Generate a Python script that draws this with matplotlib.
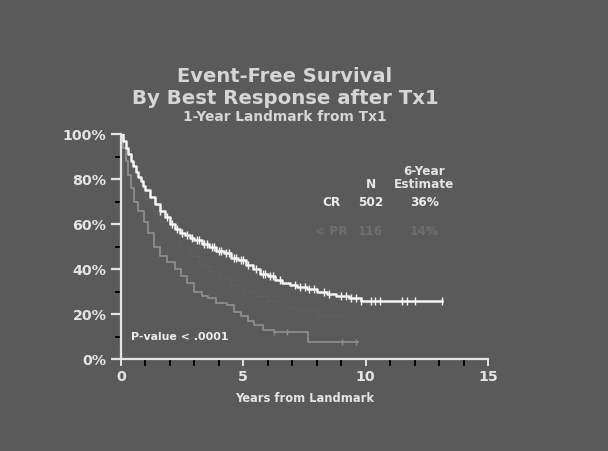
import matplotlib

matplotlib.use("Agg")
import matplotlib.pyplot as plt
import numpy as np

plt.rcParams["font.family"] = ["DejaVu Sans"]
plt.rcParams["font.weight"] = "bold"
plt.rcParams["axes.labelweight"] = "bold"

# Kaplan-Meier steps (years, percent)
cr_t = [0, 0.1, 0.2, 0.3, 0.4, 0.5, 0.6, 0.7, 0.8, 0.9, 1.0, 1.2, 1.4, 1.6, 1.8,
        2.0, 2.2, 2.4, 2.6, 2.8, 3.0, 3.3, 3.6, 3.9, 4.2, 4.5, 4.8, 5.1, 5.4, 5.7,
        6.0, 6.3, 6.6, 6.9, 7.2, 7.6, 8.0, 8.4, 8.8, 9.3, 9.8, 13.1]
cr_s = [100, 97, 94, 91, 88, 86, 83, 81, 79, 77, 75, 72, 69, 66, 63,
        60, 58, 56, 55, 54, 53, 51, 50, 48, 47, 45, 44, 42, 40, 38,
        37, 35, 34, 33, 32, 31, 30, 29, 28, 27, 26, 26]
cr_cens = [1.6, 1.9, 2.1, 2.3, 2.5, 2.7, 2.9, 3.1, 3.2, 3.4, 3.5, 3.7, 3.8, 4.0,
           4.1, 4.3, 4.4, 4.6, 4.7, 4.9, 5.0, 5.2, 5.5, 5.8, 5.9, 6.1, 6.2, 6.5,
           7.1, 7.3, 7.5, 7.7, 7.9, 8.3, 8.5, 9.0, 9.2, 9.4, 9.6, 9.8, 10.2,
           10.4, 10.6, 11.5, 11.7, 12.0, 13.1]

pr_t = [0, 0.2, 0.4, 0.6, 0.8, 1.0, 1.3, 1.6, 2.0, 2.4, 2.8, 3.2, 3.6, 4.0,
        4.5, 5.0, 5.5, 6.0, 6.6, 7.2, 8.0, 9.3]
pr_s = [100, 93, 87, 81, 76, 71, 66, 61, 55, 50, 46, 42, 39, 36,
        33, 30, 28, 26, 23, 22, 19, 19]

lpr_t = [0, 0.1, 0.2, 0.3, 0.4, 0.53, 0.7, 0.94, 1.1, 1.35, 1.6, 1.9, 2.2, 2.45,
         2.7, 3.0, 3.3, 3.55, 3.9, 4.35, 4.6, 4.9, 5.2, 5.45, 5.8, 6.25, 7.65, 9.7]
lpr_s = [100, 94, 88, 82, 76, 70, 66, 61, 56, 50, 46, 43, 40, 37,
         34, 30, 28, 27, 25, 24, 21, 19, 17, 15, 13, 12, 7.5, 7.5]
lpr_cens = [6.25, 6.8, 9.05, 9.6]

groups = ["CR", "< PR"]
n_pts = [502, 116]
est_6y = ["36%", "14%"]

BG = "#5a5a5a"
TXT = "#e4e4e4"


def step_at(t, s, x):
    idx = np.searchsorted(t, x, side="right") - 1
    return np.asarray(s)[idx]


fig = plt.figure(figsize=(6.08, 4.52), dpi=100, facecolor=BG)
ax = fig.add_axes([121 / 608, 1 - 360 / 452, (488 - 121) / 608, 225 / 452])
ax.set_facecolor(BG)

ax.step(pr_t, pr_s, where="post", color="#5f5f5f", lw=1.0)
ax.step(lpr_t, lpr_s, where="post", color="#8e8e8e", lw=1.3)
ax.plot(lpr_cens, step_at(lpr_t, lpr_s, lpr_cens), ls="none", marker="|",
        ms=5, mew=1, color="#8e8e8e")
ax.step(cr_t, cr_s, where="post", color="#f4f4f4", lw=1.8)
ax.plot(cr_cens, step_at(cr_t, cr_s, cr_cens), ls="none", marker="|",
        ms=6, mew=1, color="#f4f4f4")

ax.set_xlim(0, 15)
ax.set_ylim(0, 100)
for side in ["top", "right"]:
    ax.spines[side].set_visible(False)
for side in ["left", "bottom"]:
    ax.spines[side].set_color(TXT)
    ax.spines[side].set_linewidth(1.6)

ax.set_xticks([0, 5, 10, 15])
ax.set_xticks(np.arange(0, 16), minor=True)
ax.set_yticks(np.arange(0, 101, 20))
ax.set_yticks(np.arange(10, 100, 20), minor=True)
ax.set_yticklabels([f"{v}%" for v in range(0, 101, 20)])
ax.tick_params(colors=TXT, labelsize=10.3, width=1.6)
ax.tick_params(axis="y", which="major", length=7)
ax.tick_params(axis="y", which="minor", length=4, width=1.4)
ax.tick_params(axis="x", which="both", length=5, width=1.4)
ax.tick_params(axis="x", which="major", pad=2)
ax.set_xlabel("Years from Landmark", color=TXT, fontsize=8.3, labelpad=6)

# title
title_x = 285 / 608
fig.text(title_x, 1 - 77 / 452, "Event-Free Survival", ha="center",
         va="center", fontsize=14, color="#d6d6d6")
fig.text(title_x, 1 - 98 / 452, "By Best Response after Tx1", ha="center",
         va="center", fontsize=14.2, color="#d6d6d6")
fig.text(title_x, 1 - 117 / 452, "1-Year Landmark from Tx1", ha="center",
         va="center", fontsize=9.9, color="#d6d6d6")

# table of N and estimates
ax.text(12.4, 83.6, "6-Year", ha="center", va="center", fontsize=8.7, color=TXT)
ax.text(12.4, 78.2, "Estimate", ha="center", va="center", fontsize=8.7,
        color=TXT)
ax.text(10.2, 78.2, "N", ha="center", va="center", fontsize=8.7, color=TXT)
row_y = [70.2, 56.9]
row_c = ["#ececec", "#6e6e6e"]
for g, n, e, yy, c in zip(groups, n_pts, est_6y, row_y, row_c):
    ax.text(8.6, yy, g, ha="center", va="center", fontsize=8.7, color=c)
    ax.text(10.2, yy, str(n), ha="center", va="center", fontsize=8.7, color=c)
    ax.text(12.4, yy, e, ha="center", va="center", fontsize=8.7, color=c)

ax.text(0.4, 10.2, "P-value < .0001", ha="left", va="center", fontsize=7.9,
        color="#ececec")

fig.savefig("out.png", dpi=100, facecolor=BG)
